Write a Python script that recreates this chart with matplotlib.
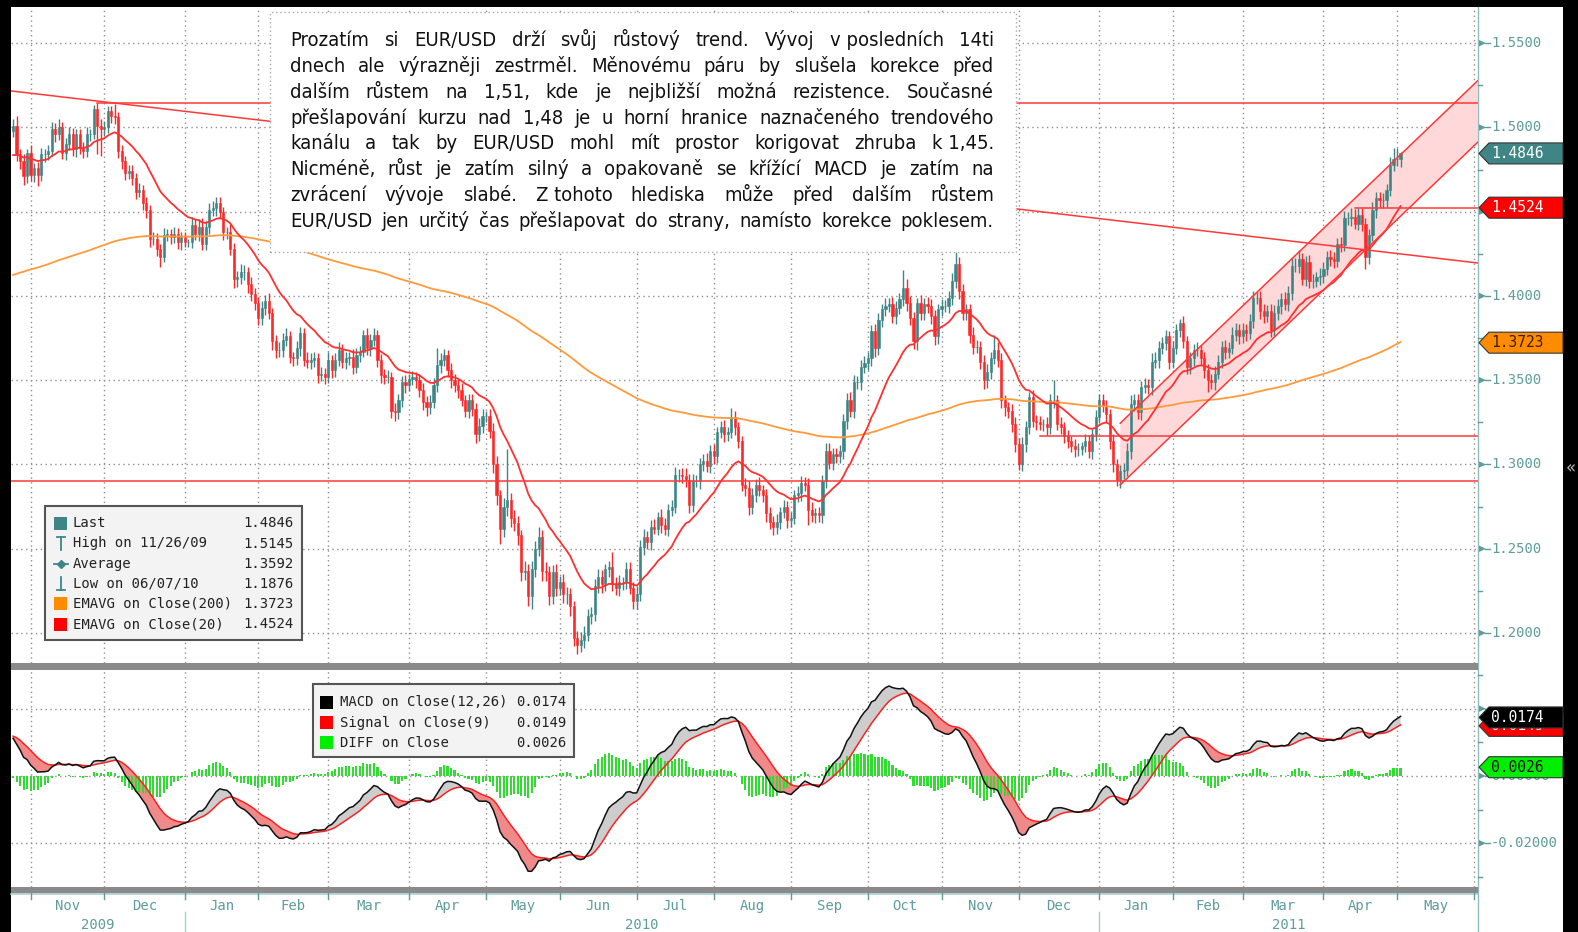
import numpy as np
import pandas as pd
import matplotlib
matplotlib.use("Agg")
import matplotlib.pyplot as plt
from matplotlib.patches import Rectangle, Polygon
from matplotlib.lines import Line2D

# EUR/USD daily candles, prices in pips (1e-4), one row per week (Mon..Fri)
start_date = "2009-10-23"
end_date = "2011-05-02"
first_open = 14980

close_pips = [
    15010,
    14840, 14800, 14710, 14850, 14720,
    14760, 14720, 14840, 14840, 14860,
    14990, 14960, 15000, 14850, 14900,
    14960, 14870, 14960, 14880, 14860,
    14960, 14960, 15110, 15010, 14990,
    15000, 15100, 15070, 15060, 14860,
    14800, 14730, 14740, 14700, 14620,
    14630, 14550, 14510, 14340, 14340,
    14280, 14230, 14360, 14370, 14350,
    14370, 14320, 14350, 14320, 14320,
    14420, 14370, 14410, 14310, 14410,
    14510, 14520, 14550, 14500, 14380,
    14380, 14280, 14100, 14110, 14140,
    14140, 14070, 14010, 13960, 13870,
    13930, 13970, 13900, 13730, 13680,
    13680, 13740, 13760, 13640, 13630,
    13690, 13780, 13620, 13610, 13620,
    13630, 13530, 13540, 13520, 13620,
    13560, 13620, 13680, 13610, 13630,
    13640, 13580, 13650, 13670, 13770,
    13690, 13740, 13770, 13620, 13530,
    13520, 13520, 13320, 13310, 13380,
    13490, 13470, 13510, 13520, 13500,
    13440, 13370, 13340, 13370, 13470,
    13590, 13620, 13650, 13560, 13500,
    13470, 13440, 13380, 13320, 13380,
    13330, 13180, 13230, 13290, 13290,
    13200, 13000, 12820, 12620, 12750,
    12790, 12680, 12650, 12580, 12360,
    12370, 12220, 12380, 12500, 12570,
    12370, 12360, 12220, 12360, 12270,
    12300, 12230, 12230, 12160, 11970,
    11930, 11960, 11990, 12100, 12110,
    12280, 12330, 12290, 12380, 12390,
    12290, 12270, 12300, 12300, 12380,
    12270, 12190, 12230, 12510, 12570,
    12540, 12630, 12620, 12690, 12640,
    12620, 12730, 12750, 12940, 12940,
    12930, 12910, 12760, 12900, 12900,
    13000, 13020, 12990, 13080, 13050,
    13190, 13220, 13180, 13190, 13280,
    13220, 13140, 12880, 12860, 12750,
    12820, 12880, 12850, 12820, 12710,
    12660, 12630, 12660, 12720, 12750,
    12670, 12680, 12820, 12830, 12890,
    12880, 12730, 12700, 12710, 12700,
    12900, 13080, 13010, 13060, 13050,
    13080, 13260, 13380, 13320, 13490,
    13490, 13580, 13600, 13630, 13790,
    13690, 13860, 13920, 13940, 13950,
    13880, 13930, 13980, 14050, 13960,
    13870, 13730, 13960, 13900, 13950,
    13940, 13880, 13760, 13920, 13940,
    13940, 13990, 14090, 14190, 14030,
    13900, 13920, 13770, 13700, 13700,
    13610, 13500, 13550, 13630, 13680,
    13620, 13380, 13340, 13320, 13240,
    13120, 13000, 13120, 13220, 13400,
    13260, 13250, 13240, 13240, 13220,
    13380, 13380, 13240, 13220, 13170,
    13140, 13110, 13090, 13090, 13110,
    13140, 13080, 13180, 13280, 13380,
    13350, 13300, 13140, 13000, 12910,
    12960, 12970, 13080, 13360, 13380,
    13310, 13460, 13470, 13460, 13610,
    13620, 13690, 13720, 13760, 13610,
    13690, 13800, 13840, 13730, 13580,
    13630, 13680, 13680, 13630, 13560,
    13500, 13490, 13540, 13610, 13700,
    13670, 13690, 13770, 13800, 13760,
    13800, 13780, 13850, 13990, 13990,
    13910, 13880, 13910, 13800, 13900,
    13940, 13980, 13950, 14020, 14180,
    14180, 14220, 14100, 14200, 14090,
    14090, 14110, 14120, 14160, 14230,
    14220, 14210, 14310, 14300, 14460,
    14460, 14470, 14430, 14480, 14430,
    14230, 14360, 14510, 14580, 14570,
    14570, 14630, 14780, 14810, 14810,
    14846,
]

upper_wick = [
    40,
    60, 35, 40, 25, 45,
    30, 35, 40, 30, 35,
    45, 35, 50, 30, 40,
    40, 35, 30, 30, 35,
    40, 30, 25, 35, 40,
    40, 25, 30, 70, 30,
    35, 30, 40, 35, 30,
    40, 30, 35, 30, 40,
    35, 30, 45, 30, 25,
    40, 35, 30, 30, 20,
    40, 35, 45, 50, 35,
    40, 45, 35, 40, 30,
    30, 45, 35, 40, 50,
    45, 35, 40, 40, 35,
    40, 35, 45, 30, 40,
    45, 40, 50, 35, 30,
    40, 35, 30, 45, 40,
    35, 30, 40, 35, 45,
    30, 40, 45, 35, 40,
    30, 45, 40, 35, 30,
    40, 35, 40, 30, 35,
    35, 40, 30, 45, 40,
    35, 40, 30, 35, 30,
    40, 45, 35, 40, 45,
    100, 40, 35, 30, 40,
    35, 40, 45, 30, 40,
    40, 35, 45, 40, 30,
    40, 45, 50, 30, 50,
    300, 40, 50, 45, 30,
    60, 40, 50, 45, 60,
    40, 50, 40, 45, 50,
    40, 50, 45, 40, 30,
    40, 45, 50, 40, 45,
    40, 50, 45, 30, 40,
    90, 40, 45, 35, 40,
    40, 35, 50, 40, 45,
    35, 40, 45, 30, 45,
    40, 35, 40, 45, 35,
    40, 50, 35, 45, 40,
    40, 45, 50, 35, 40,
    35, 40, 45, 30, 53,
    40, 35, 30, 40, 45,
    40, 35, 45, 30, 35,
    40, 35, 45, 30, 40,
    35, 40, 30, 45, 40,
    35, 40, 45, 30, 35,
    40, 45, 50, 35, 40,
    35, 40, 45, 50, 40,
    35, 40, 45, 40, 35,
    45, 40, 35, 50, 40,
    45, 40, 35, 107, 50,
    40, 35, 30, 45, 40,
    45, 40, 35, 30, 40,
    35, 40, 45, 70, 40,
    40, 35, 30, 45, 40,
    35, 40, 45, 40, 90,
    45, 40, 35, 30, 40,
    40, 35, 45, 40, 30,
    45, 35, 40, 30, 40,
    40, 120, 35, 40, 30,
    35, 30, 40, 35, 25,
    40, 35, 30, 45, 40,
    40, 35, 30, 40, 35,
    35, 40, 45, 50, 40,
    40, 35, 45, 40, 50,
    45, 40, 35, 40, 30,
    40, 35, 22, 40, 35,
    40, 35, 45, 30, 40,
    35, 40, 45, 40, 35,
    40, 35, 45, 40, 35,
    40, 35, 45, 40, 35,
    40, 45, 35, 40, 45,
    40, 35, 45, 40, 50,
    45, 50, 35, 40, 45,
    40, 35, 45, 40, 35,
    45, 40, 35, 40, 45,
    40, 50, 45, 40, 45,
    35, 40, 45, 40, 35,
    40, 35, 45, 70, 70,
    10,
]

lower_wick = [
    35,
    40, 45, 50, 40, 35,
    45, 70, 40, 45, 35,
    30, 45, 35, 40, 45,
    35, 40, 45, 35, 40,
    35, 40, 30, 170, 160,
    40, 35, 45, 40, 40,
    45, 40, 35, 40, 45,
    35, 40, 45, 50, 40,
    40, 55, 30, 35, 40,
    35, 40, 45, 30, 30,
    35, 40, 45, 40, 35,
    40, 35, 45, 40, 45,
    40, 35, 50, 45, 40,
    45, 50, 40, 45, 40,
    40, 45, 35, 50, 50,
    45, 40, 35, 40, 45,
    40, 45, 35, 40, 45,
    40, 45, 35, 40, 35,
    45, 40, 35, 40, 45,
    40, 45, 35, 40, 35,
    40, 45, 35, 40, 45,
    40, 35, 45, 50, 40,
    40, 45, 35, 40, 45,
    40, 45, 50, 40, 35,
    40, 45, 35, 40, 45,
    40, 45, 35, 40, 45,
    45, 50, 40, 45, 40,
    45, 50, 60, 90, 50,
    55, 50, 45, 60, 50,
    45, 60, 77, 50, 45,
    60, 50, 55, 45, 50,
    45, 50, 55, 60, 50,
    54, 45, 50, 40, 45,
    40, 45, 50, 40, 45,
    40, 45, 50, 45, 40,
    40, 45, 50, 40, 45,
    40, 45, 35, 40, 45,
    40, 45, 35, 40, 45,
    40, 45, 50, 40, 35,
    45, 40, 35, 40, 45,
    40, 35, 45, 40, 35,
    45, 40, 35, 45, 50,
    45, 40, 35, 45, 50,
    45, 50, 40, 45, 40,
    45, 40, 35, 40, 45,
    40, 90, 40, 45, 40,
    45, 40, 35, 45, 40,
    40, 45, 50, 40, 45,
    40, 45, 35, 40, 45,
    50, 40, 45, 40, 35,
    40, 45, 35, 40, 50,
    40, 45, 50, 40, 45,
    40, 45, 50, 45, 40,
    35, 40, 45, 40, 45,
    45, 40, 50, 45, 40,
    45, 50, 45, 40, 35,
    40, 45, 50, 45, 50,
    45, 31, 40, 45, 40,
    40, 45, 35, 40, 45,
    40, 45, 35, 40, 45,
    40, 35, 45, 40, 35,
    35, 40, 45, 40, 35,
    40, 45, 50, 45, 40,
    50, 45, 40, 45, 40,
    40, 45, 35, 40, 45,
    40, 45, 35, 40, 45,
    40, 35, 45, 40, 45,
    40, 45, 35, 40, 45,
    70, 40, 45, 35, 40,
    45, 40, 35, 40, 45,
    40, 45, 35, 40, 35,
    45, 40, 35, 45, 40,
    40, 45, 35, 40, 45,
    40, 45, 35, 40, 45,
    40, 35, 45, 40, 35,
    40, 45, 35, 40, 35,
    40, 45, 35, 40, 45,
    70, 40, 35, 45, 40,
    45, 40, 35, 40, 40,
    45,
]

# indicator start values
ema20_seed = 1.4818
ema200_seed = 1.4116
ema12_seed = 1.4940
ema26_seed = 1.4825
signal_seed = 0.0120

# drawn support / resistance lines: (start date, price, end date, price)
trend_lines = [
    ("2009-10-22", 1.5218, "2011-06-01", 1.4196),
    ("2009-11-26", 1.5145, "2011-06-01", 1.5145),
    ("2009-10-22", 1.2901, "2011-06-01", 1.2901),
    ("2010-12-08", 1.3169, "2011-06-01", 1.3169),
    ("2011-04-13", 1.4524, "2011-06-01", 1.4524),
]
channel_upper = ("2011-01-10", 1.3245, "2011-06-01", 1.5277)
channel_lower = ("2011-01-10", 1.2879, "2011-06-01", 1.4912)

price_ticks = [1.20, 1.25, 1.30, 1.35, 1.40, 1.45, 1.50, 1.55]
macd_ticks = [-0.02, 0.0, 0.02]
covered_ticks = [1.45, 0.02]  # labels hidden behind the value tags

top_legend_labels = ["Last", "High on 11/26/09", "Average", "Low on 06/07/10",
                     "EMAVG on Close(200)", "EMAVG on Close(20)"]
top_legend_values = ["1.4846", "1.5145", "1.3592", "1.1876", "1.3723", "1.4524"]
macd_legend_labels = ["MACD on Close(12,26)", "Signal on Close(9)", "DIFF on Close"]
macd_legend_values = ["0.0174", "0.0149", "0.0026"]

box_lines = [
    "Prozatím si EUR/USD drží svůj růstový trend. Vývoj v\u00a0posledních 14ti",
    "dnech ale výrazněji zestrměl. Měnovému páru by slušela korekce před",
    "dalším růstem na 1,51, kde je nejbližší možná rezistence. Současné",
    "přešlapování kurzu nad 1,48 je u horní hranice naznačeného trendového",
    "kanálu a tak by EUR/USD mohl mít prostor korigovat zhruba k\u00a01,45.",
    "Nicméně, růst je zatím silný a opakovaně se křížící MACD je zatím na",
    "zvrácení vývoje slabé. Z\u00a0tohoto hlediska může před dalším růstem",
    "EUR/USD jen určitý čas přešlapovat do strany, namísto korekce poklesem.",
]

# ---------------------------------------------------------------------------
W, H = 1578, 932
TEAL = "#3f8585"
RED = "#ff2828"
ORANGE = "#ff9a3a"
AXC = "#5f9c9c"
MONO = "DejaVu Sans Mono"


def P(x, y):
    return x / W, 1 - y / H


def ema(values, n, seed):
    a = 2.0 / (n + 1)
    out = np.empty(len(values))
    v = seed
    for k, xv in enumerate(values):
        v += a * (xv - v)
        out[k] = v
    return out


dates = pd.bdate_range(start_date, end_date)
cal = pd.bdate_range("2009-10-01", "2011-07-29")
base = cal.get_loc(pd.Timestamp(start_date))


def pos_of(d):
    return cal.get_loc(pd.Timestamp(d)) - base


c = np.array(close_pips) / 1e4
assert len(c) == len(dates) == len(upper_wick) == len(lower_wick)
o = np.r_[first_open / 1e4, c[:-1]]
hi = np.maximum(o, c) + np.array(upper_wick) / 1e4
lo = np.minimum(o, c) - np.array(lower_wick) / 1e4
x = np.arange(len(c))
up = c >= o

ema20 = ema(c, 20, ema20_seed)
ema200 = ema(c, 200, ema200_seed)
macd = ema(c, 12, ema12_seed) - ema(c, 26, ema26_seed)
sig = ema(macd, 9, signal_seed)
diff = macd - sig

fig = plt.figure(figsize=(W / 100, H / 100), dpi=100, facecolor="black")

# white canvases
fig.patches.append(Rectangle(P(1478, 932), (1563 - 1478) / W, (932 - 7) / H,
                             transform=fig.transFigure, fc="white", ec="none", zorder=-1))
fig.patches.append(Rectangle(P(11, 932), (1563 - 11) / W, (932 - 893) / H,
                             transform=fig.transFigure, fc="white", ec="none", zorder=-1))

xl = (-0.59, 417.97)
ax1 = fig.add_axes([11 / W, 1 - 663 / H, (1477.5 - 11) / W, (663 - 7) / H])
ax2 = fig.add_axes([11 / W, 1 - 887 / H, (1477.5 - 11) / W, (887 - 670) / H])
ax1.set_xlim(*xl)
ax2.set_xlim(*xl)
ax1.set_ylim(1.1822, 1.5715)
ax2.set_ylim(-0.0330, 0.0315)
for ax in (ax1, ax2):
    ax.set_facecolor("white")
    ax.set_xticks([])
    ax.set_yticks([])
    for s in ax.spines.values():
        s.set_visible(False)

# month ticks (last weekday of the previous month)
months = pd.period_range("2009-11", "2011-06", freq="M")
tick_pos = [pos_of(cal[cal >= m.start_time][0]) - 1 for m in months]

grid_kw = dict(color="#8f8f8f", lw=1.0, ls=(0, (1, 2.5)), zorder=0.5)
for t in tick_pos:
    ax1.axvline(t, **grid_kw)
    ax2.axvline(t, **grid_kw)
for v in price_ticks:
    ax1.axhline(v, **grid_kw)
for v in macd_ticks:
    ax2.axhline(v, **grid_kw)

# channel
cu0, cu1 = pos_of(channel_upper[0]), pos_of(channel_upper[2])
cl0, cl1 = pos_of(channel_lower[0]), pos_of(channel_lower[2])
ax1.add_patch(Polygon([(cu0, channel_upper[1]), (cu1, channel_upper[3]),
                       (cl1, channel_lower[3]), (cl0, channel_lower[1])],
                      closed=True, fc="#ffd9d9", ec="none", zorder=1))

# candles
cols = np.where(up, TEAL, RED)
ax1.vlines(x, lo, hi, colors=cols, lw=1.0, zorder=2)
ax1.bar(x, c - o, bottom=o, width=0.62, color=cols, edgecolor=cols, lw=0.4, zorder=2.1)

ax1.plot(x, ema200, color=ORANGE, lw=1.3, zorder=3)
ax1.plot(x, ema20, color="#ff3030", lw=1.3, zorder=3)

for d0, p0, d1, p1 in trend_lines + [channel_upper, channel_lower]:
    ax1.plot([pos_of(d0), pos_of(d1)], [p0, p1], color="#ff3838", lw=1.1, zorder=3.5)

# MACD panel
ax2.fill_between(x, macd, sig, where=macd >= sig, interpolate=True, color="#cdcdcd", lw=0, zorder=1)
ax2.fill_between(x, macd, sig, where=macd < sig, interpolate=True, color="#f08a8a", lw=0, zorder=1)
ax2.bar(x, diff, width=0.6, color="#2fdc2f", zorder=1.5)
ax2.plot(x, sig, color="#ff2020", lw=1.1, zorder=2)
ax2.plot(x, macd, color="#111111", lw=1.1, zorder=2.1)


def ypix(ax, v):
    return H - ax.transData.transform((0, v))[1]


def xpix(ax, p):
    return ax.transData.transform((p, 0))[0]


# separator bands and right axis line
for y0, y1 in [(663, 670), (887, 893)]:
    fig.patches.append(Rectangle(P(11, y1), (1478 - 11) / W, (y1 - y0) / H,
                                 transform=fig.transFigure, fc="#8a8a8a", ec="none", zorder=4))
fig.lines.append(Line2D([11 / W, 1478 / W], [1 - 894 / H] * 2, transform=fig.transFigure,
                        color="#a9cccc", lw=1.2, zorder=4))
fig.lines.append(Line2D([1478 / W] * 2, [1 - 7 / H, 0], transform=fig.transFigure,
                        color="#8fbcbc", lw=1.0, zorder=4))


def ytick(ax, v, label, major=True):
    y = ypix(ax, v)
    if major:
        fig.patches.append(Polygon([P(1479, y - 3.2), P(1486, y), P(1479, y + 3.2)],
                                   closed=True, transform=fig.transFigure, fc=AXC, ec="none", zorder=5))
        fig.lines.append(Line2D([1485 / W, 1490 / W], [1 - y / H] * 2, transform=fig.transFigure,
                                color=AXC, lw=1.0, zorder=5))
        if label:
            fig.text(1491 / W, 1 - y / H, label, color=AXC, fontsize=10, family=MONO,
                     va="center", ha="left", zorder=5)
    else:
        fig.lines.append(Line2D([1478 / W, 1482 / W], [1 - y / H] * 2, transform=fig.transFigure,
                                color=AXC, lw=1.0, zorder=5))


for v in price_ticks:
    ytick(ax1, v, "" if v in covered_ticks else f"{v:.4f}")
for v in np.arange(1.225, 1.56, 0.05):
    ytick(ax1, v, "", major=False)
for v in macd_ticks:
    ytick(ax2, v, "" if v in covered_ticks else f"{v:.5f}")
for v in [-0.03, -0.01, 0.01, 0.03]:
    ytick(ax2, v, "", major=False)


def tag(ax, v, text, fc, tc, z):
    y = ypix(ax, v)
    pts = [(1479, y), (1489, y - 10.5), (1563, y - 10.5), (1563, y + 10.5), (1489, y + 10.5)]
    fig.patches.append(Polygon([P(*p) for p in pts], closed=True, transform=fig.transFigure,
                               fc=fc, ec="#333333", lw=0.8, zorder=z))
    fig.text(1491 / W, 1 - y / H, text, color=tc, fontsize=10.5, family=MONO,
             va="center", ha="left", zorder=z + 0.1)


tag(ax1, float(top_legend_values[0]), top_legend_values[0], TEAL, "white", 6)
tag(ax1, float(top_legend_values[5]), top_legend_values[5], "#ff0000", "white", 6)
tag(ax1, float(top_legend_values[4]), top_legend_values[4], "#ff8c00", "#3a2000", 6)
tag(ax2, float(macd_legend_values[1]), macd_legend_values[1], "#ff0000", "white", 6)
tag(ax2, float(macd_legend_values[0]), macd_legend_values[0], "#000000", "white", 6.5)
tag(ax2, float(macd_legend_values[2]), macd_legend_values[2], "#00ee00", "#111111", 6)

# x axis: month ticks, month names, years
for t in tick_pos:
    xp = xpix(ax2, t)
    fig.lines.append(Line2D([xp / W] * 2, [1 - 893 / H, 1 - 899 / H], transform=fig.transFigure,
                            color=AXC, lw=1.0, zorder=5))
for k, m in enumerate(months[:-1]):
    xm = (xpix(ax2, tick_pos[k]) + xpix(ax2, tick_pos[k + 1])) / 2
    fig.text(xm / W, 1 - 906 / H, m.strftime("%b"), color=AXC, fontsize=10, family=MONO,
             ha="center", va="center", zorder=5)
year_edges = [xpix(ax2, xl[0])]
for k, m in enumerate(months):
    if m.month == 1:
        xp = xpix(ax2, tick_pos[k])
        year_edges.append(xp)
        fig.lines.append(Line2D([xp / W] * 2, [1 - 912 / H, 0], transform=fig.transFigure,
                                color="#a9cccc", lw=1.0, zorder=5))
year_edges.append(xpix(ax2, xl[1]))
for k, yr in enumerate(["2009", "2010", "2011"]):
    fig.text((year_edges[k] + year_edges[k + 1]) / 2 / W, 1 - 925 / H, yr, color=AXC,
             fontsize=10, family=MONO, ha="center", va="center", zorder=5)

fig.text(1571 / W, 1 - 468 / H, "«", color="#bbbbbb", fontsize=12, ha="center", va="center")

# legends
def legend_box(x0, y0, x1, y1):
    fig.patches.append(Rectangle(P(x0, y1), (x1 - x0) / W, (y1 - y0) / H, transform=fig.transFigure,
                                 fc="#f3f3f3", ec="#555555", lw=1.5, zorder=6))


def fline(xs, ys, color, lw=1.3):
    fig.lines.append(Line2D([v / W for v in xs], [1 - v / H for v in ys], transform=fig.transFigure,
                            color=color, lw=lw, zorder=7))


def fsquare(x0, yc, color):
    fig.patches.append(Rectangle(P(x0, yc + 6.5), 13 / W, 13 / H, transform=fig.transFigure,
                                 fc=color, ec="none", zorder=7))


legend_box(45, 506, 302, 640)
rows = [523.4, 543.5, 563.6, 583.7, 603.9, 624.0]
fsquare(54, rows[0], TEAL)
fline([57, 65], [rows[1] - 7, rows[1] - 7], TEAL)
fline([61, 61], [rows[1] - 7, rows[1] + 6], TEAL)
fline([54, 68], [rows[2], rows[2]], TEAL)
fig.lines.append(Line2D([61 / W], [1 - rows[2] / H], transform=fig.transFigure, marker="D",
                        ms=4, color=TEAL, zorder=7))
fline([61, 61], [rows[3] - 7, rows[3] + 6], TEAL)
fline([57, 65], [rows[3] + 6, rows[3] + 6], TEAL)
fsquare(54, rows[4], "#ff8c00")
fsquare(54, rows[5], "#ff0000")
for r, lab, val in zip(rows, top_legend_labels, top_legend_values):
    fig.text(73 / W, 1 - r / H, lab, color="#222222", fontsize=10, family=MONO, va="center", zorder=8)
    fig.text(294 / W, 1 - r / H, val, color="#222222", fontsize=10, family=MONO, va="center",
             ha="right", zorder=8)

legend_box(313, 684, 574, 757)
mrows = [702.5, 722.7, 742.8]
for r, colr, lab, val in zip(mrows, ["#000000", "#ff0000", "#00ee00"], macd_legend_labels,
                             macd_legend_values):
    fsquare(320, r, colr)
    fig.text(340 / W, 1 - r / H, lab, color="#222222", fontsize=10, family=MONO, va="center", zorder=8)
    fig.text(566 / W, 1 - r / H, val, color="#222222", fontsize=10, family=MONO, va="center",
             ha="right", zorder=8)

# comment box with justified text
fig.patches.append(Rectangle(P(270, 252), (1016 - 270) / W, (252 - 12) / H, transform=fig.transFigure,
                             fc="white", ec="#aaaaaa", lw=1.0, ls=(0, (1, 2)), zorder=8))
renderer = fig.canvas.get_renderer()
left, right = 290, 994
fs = 14.5
while True:
    line_words = []
    ok = True
    for ln in box_lines:
        words = ln.split(" ")
        ts = [fig.text(0, 0, w, fontsize=fs, family="DejaVu Sans", fontstretch="condensed",
                       color="#111111", va="baseline", ha="left", zorder=9) for w in words]
        ws = [t.get_window_extent(renderer).width for t in ts]
        gap = (right - left - sum(ws)) / (len(ws) - 1)
        if gap < 4:
            ok = False
        line_words.append((ts, ws, gap))
    if ok or fs <= 10:
        break
    for ts, _, _ in line_words:
        for t in ts:
            t.remove()
    fs -= 0.25

for k, (ts, ws, gap) in enumerate(line_words):
    yb = 46.3 + k * 25.75
    xc = left
    for t, w in zip(ts, ws):
        t.set_position((xc / W, 1 - yb / H))
        xc += w + gap

fig.savefig("out.png", dpi=100, facecolor="black")
